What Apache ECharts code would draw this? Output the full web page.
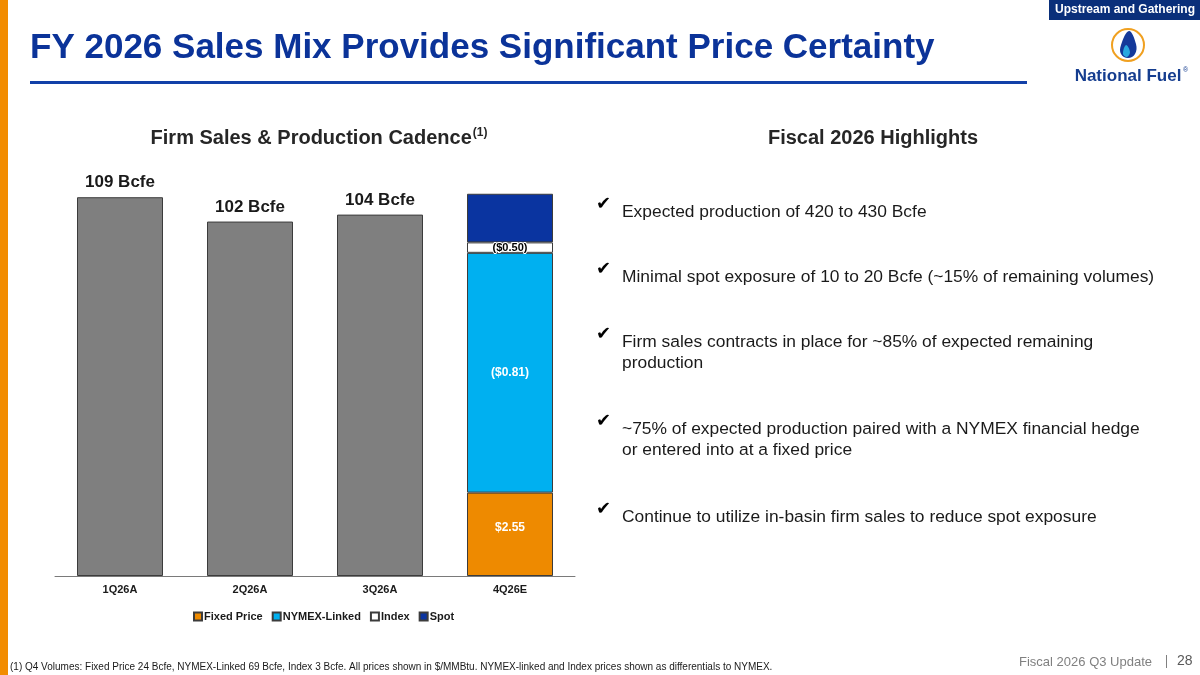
<!DOCTYPE html>
<html>
<head>
<meta charset="utf-8">
<script src="https://cdn.jsdelivr.net/npm/echarts@6/dist/echarts.min.js"></script>
<style>
  html, body { margin: 0; padding: 0; background: #fff; }
  #chart { width: 1200px; height: 675px; }
</style>
</head>
<body>
<div id="chart"></div>
<script>
// 数据
const categories = ["1Q26A", "2Q26A", "3Q26A", "4Q26E"]
const actualVolume = [109, 102, 104, "-"]
const fixedPrice = ["-", "-", "-", 24]
const nymexLinked = ["-", "-", "-", 69]
const indexVolume = ["-", "-", "-", 3]
const spotVolume = ["-", "-", "-", 14]
const priceLabels = { fixed: "$2.55", nymex: "($0.81)", index: "($0.50)" }
const legendNames = ["Fixed Price", "NYMEX-Linked", "Index", "Spot"]
const highlights = [
  "Expected production of 420 to 430 Bcfe",
  "Minimal spot exposure of 10 to 20 Bcfe (~15% of remaining volumes)",
  "Firm sales contracts in place for ~85% of expected remaining\nproduction",
  "~75% of expected production paired with a NYMEX financial hedge\nor entered into at a fixed price",
  "Continue to utilize in-basin firm sales to reduce spot exposure"
]
const highlightY = [212, 277, 353, 440, 517]

const FONT = "'Liberation Sans', Arial, sans-serif"
const NAVY = "#0b3399"
const EDGE = "#3c3c3c"

const myChart = echarts.init(document.getElementById("chart"))

// 堆叠柱
function stackBar(name, data, color, label) {
  return {
    name: name,
    type: "bar",
    stack: "q",
    barWidth: 86,
    data: data,
    itemStyle: { color: color, borderColor: EDGE, borderWidth: 1 },
    label: label || { show: false }
  }
}

function txt(x, y, text, font, fill, align) {
  return {
    type: "text", x: x, y: y,
    style: { text: text, fill: fill, font: font, textAlign: align || "left", textVerticalAlign: "middle" }
  }
}

const graphics = [
  // 左侧橙色条
  { type: "rect", shape: { x: 0, y: 0, width: 8, height: 675 }, style: { fill: "#f28c00" } },
  // 标题
  txt(30, 48, "FY 2026 Sales Mix Provides Significant Price Certainty", "bold 35px " + FONT, NAVY),
  { type: "rect", shape: { x: 30, y: 81, width: 997, height: 3 }, style: { fill: "#1240a8" } },
  // 右上角
  { type: "rect", shape: { x: 1049, y: 0, width: 151, height: 20 }, style: { fill: "#0a2f7a" } },
  txt(1125, 10, "Upstream and Gathering", "bold 12px " + FONT, "#fff", "center"),
  { type: "circle", shape: { cx: 1128, cy: 45, r: 16 }, style: { fill: "#fff", stroke: "#f0a020", lineWidth: 2 } },
  {
    type: "polygon",
    shape: { points: [[1129, 31], [1136, 44], [1135, 54], [1128, 58], [1121, 54], [1121, 45]], smooth: 0.4 },
    style: { fill: "#14399a" }
  },
  {
    type: "polygon",
    shape: { points: [[1126, 45], [1130, 52], [1127, 57], [1123, 54]], smooth: 0.4 },
    style: { fill: "#2aa9e0" }
  },
  txt(1128, 76, "National Fuel", "bold 17px " + FONT, "#153d8f", "center"),
  txt(1183, 70, "®", "7px " + FONT, "#153d8f"),
  // 图表标题
  {
    type: "text", x: 319, y: 138,
    style: {
      text: "{t|Firm Sales & Production Cadence}{s|(1)}",
      textAlign: "center", textVerticalAlign: "middle",
      rich: {
        t: { fontFamily: FONT, fontWeight: "bold", fontSize: 20, fill: "#262626" },
        s: { fontFamily: FONT, fontWeight: "bold", fontSize: 12, fill: "#262626", padding: [0, 0, 10, 1] }
      }
    }
  },
  txt(873, 138, "Fiscal 2026 Highlights", "bold 20px " + FONT, "#262626", "center"),
  // 脚注
  txt(10, 667, "(1) Q4 Volumes: Fixed Price 24 Bcfe, NYMEX-Linked 69 Bcfe, Index 3 Bcfe. All prices shown in $/MMBtu. NYMEX-linked and Index prices shown as differentials to NYMEX.", "10px " + FONT, "#1a1a1a"),
  txt(1152, 662, "Fiscal 2026 Q3 Update", "13px " + FONT, "#808080", "right"),
  { type: "rect", shape: { x: 1166, y: 655, width: 1, height: 13 }, style: { fill: "#808080" } },
  txt(1177, 661, "28", "14px " + FONT, "#595959")
]

// 要点
highlights.forEach(function (t, i) {
  const lines = t.split("\n").length
  const first = highlightY[i] - (lines - 1) * 10.5
  graphics.push(txt(596, first - 8, "✔", "18px 'DejaVu Sans', sans-serif", "#000"))
  graphics.push({
    type: "text", x: 622, y: highlightY[i],
    style: { text: t, fill: "#1a1a1a", font: "17.4px " + FONT, lineHeight: 21, textVerticalAlign: "middle" }
  })
})

const option = {
  animation: false,
  backgroundColor: "#fff",
  grid: { left: 55, right: 625, top: 159, bottom: 99 },
  legend: {
    data: legendNames,
    left: 188,
    top: 606,
    icon: "rect",
    itemWidth: 8,
    itemHeight: 8,
    itemGap: 9,
    textStyle: { fontFamily: FONT, fontWeight: "bold", fontSize: 11, color: "#1a1a1a", padding: [0, 0, 0, -3] }
  },
  xAxis: {
    type: "category",
    data: categories,
    axisLine: { lineStyle: { color: "#7a7a7a", width: 1 } },
    axisTick: { show: false },
    axisLabel: { margin: 8, fontFamily: FONT, fontWeight: "bold", fontSize: 11, color: "#1a1a1a" }
  },
  yAxis: { type: "value", min: 0, max: 120, show: false, splitLine: { show: false } },
  series: [
    stackBar("Actual", actualVolume, "#7f7f7f", {
      show: true, position: "top", distance: 6,
      formatter: function (p) { return p.value + " Bcfe" },
      fontFamily: FONT, fontWeight: "bold", fontSize: 17, color: "#1a1a1a"
    }),
    stackBar("Fixed Price", fixedPrice, "#ee8a00", {
      show: true, position: "inside", offset: [0, -7], formatter: priceLabels.fixed,
      fontFamily: FONT, fontWeight: "bold", fontSize: 12, color: "#fff"
    }),
    stackBar("NYMEX-Linked", nymexLinked, "#00b0f0", {
      show: true, position: "inside", formatter: priceLabels.nymex,
      fontFamily: FONT, fontWeight: "bold", fontSize: 12, color: "#fff"
    }),
    stackBar("Index", indexVolume, "#ffffff", {
      show: true, position: "inside", formatter: priceLabels.index,
      fontFamily: FONT, fontWeight: "bold", fontSize: 11, color: "#000",
      textBorderColor: "#fff", textBorderWidth: 2
    }),
    stackBar("Spot", spotVolume, "#0a34a0")
  ],
  graphic: graphics
}

myChart.setOption(option)
</script>
</body>
</html>
